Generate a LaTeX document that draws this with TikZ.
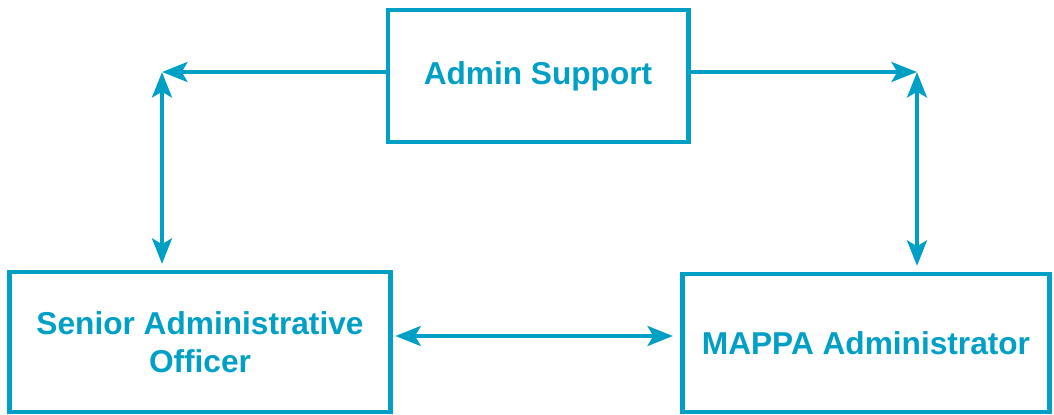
\documentclass[tikz,border=0pt]{standalone}
\usepackage{fontspec}
\setmainfont{Liberation Sans}
\usetikzlibrary{arrows.meta}
\definecolor{teal}{RGB}{0,160,198}
\begin{document}
\begin{tikzpicture}[x = 0.025cm, y = -0.025cm,
	box/.style = {draw = teal, line width = 3.5pt, text = teal, align = center, inner sep = 0pt,
		font = \fontsize{22.5}{27}\selectfont\bfseries},
	tip/.style = {-{Stealth[length = 18pt, width = 14pt, inset = 4pt]}},
	link/.style = {draw = teal, line width = 3.3pt, {Stealth[length = 18pt, width = 14pt, inset = 4pt]}-{Stealth[length = 18pt, width = 14pt, inset = 4pt]}}]
	\useasboundingbox (0,0) rectangle (1054,415);

	% boxes
	\node[box, minimum width = 7.5cm, minimum height = 3.3cm] (admin) at (538, 76) {Admin Support};
	\node[box, minimum width = 9.5cm, minimum height = 3.5cm] (senior) at (200, 342) {Senior Administrative\\Officer};
	\node[box, minimum width = 9.175cm, minimum height = 3.45cm] (mappa) at (866, 343) {MAPPA Administrator};

	% corners
	\coordinate (cl) at (162, 72);
	\coordinate (cr) at (917, 72);
	\coordinate (mid) at (540, 336);

	% connectors
	\draw[link, tip] (admin.west |- cl) -- (cl);
	\draw[link, tip] (admin.east |- cr) -- (cr);
	\draw[link, shorten >= 4pt] (cl) -- (senior.north -| cl);
	\draw[link, shorten >= 4pt] (cr) -- (mappa.north -| cr);
	\draw[link, shorten <= 2pt, shorten >= 5pt] (senior.east |- mid) -- (mappa.west |- mid);
\end{tikzpicture}
\end{document}
